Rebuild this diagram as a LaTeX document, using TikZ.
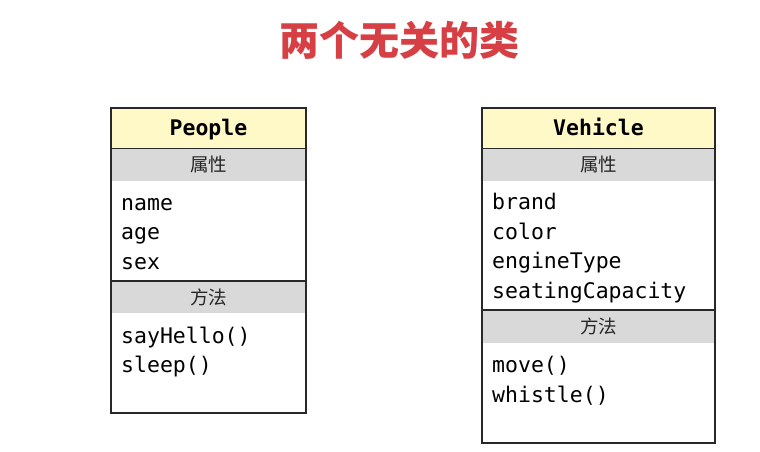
\documentclass[tikz,border=0pt]{standalone}
\usepackage{fontspec}
\setmonofont{DejaVu Sans Mono}
\newfontfamily\cjk{Noto Sans CJK SC}
\definecolor{titlered}{RGB}{214,64,69}
\definecolor{hdryellow}{RGB}{255,249,200}
\definecolor{secgray}{RGB}{217,217,217}
\definecolor{boxline}{RGB}{40,40,40}
\begin{document}
\begin{tikzpicture}[x=1pt,y=-1pt,
  classtitle/.style={fill=hdryellow,anchor=north west,inner sep=0pt},
  sechead/.style={fill=secgray,anchor=north west,inner sep=0pt,text=black!85,
    font=\fontsize{18.5}{20}\cjk},
  classname/.style={anchor=base,inner sep=0pt,font=\fontsize{21.5}{24}\ttfamily\bfseries},
  member/.style={anchor=base west,inner sep=0pt,font=\fontsize{21.5}{24}\ttfamily},
  outline/.style={draw=boxline,line width=1.5pt}]
\useasboundingbox (0,0) rectangle (760,452);
\fill[white] (0,0) rectangle (760,452);
% title
\node[font=\fontsize{40}{44}\cjk\bfseries,text=titlered] (title) at (399.5,40) {两个无关的类};
% ---------- People ----------
\node[classtitle,minimum width=195pt,minimum height=40pt] (pt) at (111,108) {};
\node[sechead,minimum width=195pt,minimum height=33pt] (pah) at (111,148) {属性};
\node[sechead,minimum width=195pt,minimum height=32pt] (pmh) at (111,281) {方法};
\node[classname] (ptn) at (208.5,135) {People};
\node[member] (p1) at (121,210) {name};
\node[member] (p2) at (121,239.5) {age};
\node[member] (p3) at (121,269) {sex};
\node[member] (p4) at (121,343) {sayHello()};
\node[member] (p5) at (121,372) {sleep()};
\coordinate (pbr) at (306,413);
\draw[outline] (pt.north west) rectangle (pbr);
\draw[outline] (pt.south west) -- (pt.south east);
\draw[outline] (pmh.north west) -- (pmh.north east);
% ---------- Vehicle ----------
\node[classtitle,minimum width=233pt,minimum height=40pt] (vt) at (482,108) {};
\node[sechead,minimum width=233pt,minimum height=33pt] (vah) at (482,148) {属性};
\node[sechead,minimum width=233pt,minimum height=33pt] (vmh) at (482,310) {方法};
\node[classname] (vtn) at (598.5,135) {Vehicle};
\node[member] (v1) at (492,209) {brand};
\node[member] (v2) at (492,239) {color};
\node[member] (v3) at (492,268) {engineType};
\node[member] (v4) at (492,298) {seatingCapacity};
\node[member] (v5) at (492,372) {move()};
\node[member] (v6) at (492,402) {whistle()};
\coordinate (vbr) at (715,443);
\draw[outline] (vt.north west) rectangle (vbr);
\draw[outline] (vt.south west) -- (vt.south east);
\draw[outline] (vmh.north west) -- (vmh.north east);
\end{tikzpicture}
\end{document}
